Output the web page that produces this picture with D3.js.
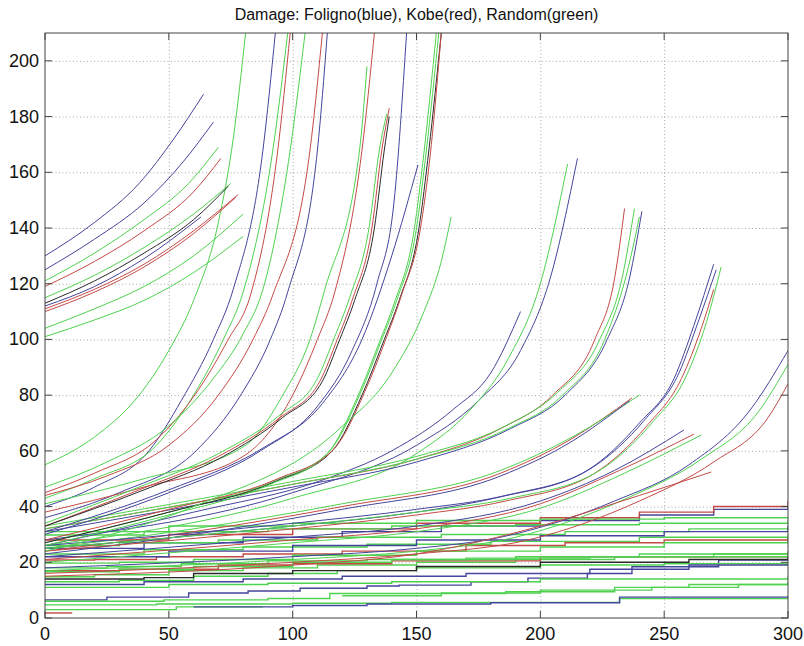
<!DOCTYPE html>
<html>
<head>
<meta charset="utf-8">
<script src="https://cdnjs.cloudflare.com/ajax/libs/d3/7.8.5/d3.min.js"></script>
<style>
  body { margin: 0; background: #fff; }
  .grid line { stroke: #a8a8a8; stroke-dasharray: 1,2.5; }
  .grid path { display: none; }
  .lbl { font-family: "Liberation Sans", Arial, sans-serif; font-size: 18px; fill: #111; }
  .ttl { font-family: "Liberation Sans", Arial, sans-serif; font-size: 16px; fill: #111; }
</style>
</head>
<body>
<div id="chart"></div>
<script>
// -----------------------------------------------------------------------------
// Data
// -----------------------------------------------------------------------------

var TITLE = "Damage: Foligno(blue), Kobe(red), Random(green)";
var X_TICKS = [0, 50, 100, 150, 200, 250, 300];
var Y_TICKS = [0, 20, 40, 60, 80, 100, 120, 140, 160, 180, 200];
var X_DOMAIN = [0, 300];
var Y_DOMAIN = [0, 210];

// series colour codes: b = Foligno, r = Kobe, g = Random, k = overlap
var upperLeft = [
  {c: "b", p: [[0,130],[20,142],[38,156],[52,172],[64,188]]},
  {c: "b", p: [[0,125],[20,136],[40,149],[56,164],[68,178]]},
  {c: "g", p: [[0,121],[20,131],[40,143],[58,156],[70,169]]},
  {c: "r", p: [[0,119],[20,128],[40,139],[60,153],[71,165]]},
  {c: "g", p: [[0,115],[20,123],[40,133],[60,145],[75,156]]},
  {c: "k", p: [[0,113],[20,121],[40,131],[60,143],[74,155]]},
  {c: "b", p: [[0,112],[20,119],[40,129],[63,144]]},
  {c: "r", p: [[0,110],[20,117],[40,126],[60,138],[77,151]]},
  {c: "r", p: [[0,111],[20,118],[40,127],[60,139],[78,152]]},
  {c: "g", p: [[0,104],[20,111],[40,119],[60,130],[80,145]]},
  {c: "g", p: [[0,101],[20,107],[40,114],[60,124],[80,137]]}
];

var steep = [
  {c: "g", p: [[0,55],[20,65],[38,80],[50,96],[60,114],[70,142],[76,172],[81,210]]},
  {c: "b", p: [[0,40],[20,47],[42,60],[55,78],[68,100],[76,118],[88,168],[93,210]]},
  {c: "g", p: [[0,43],[20,50],[45,62],[60,80],[72,100],[80,117],[92,168],[98,210]]},
  {c: "r", p: [[0,45],[20,52],[45,64],[62,82],[74,100],[83,116],[94,168],[99,210]]},
  {c: "g", p: [[0,47],[25,56],[50,69],[68,86],[80,102],[88,118],[99,168],[105,210]]},
  {c: "r", p: [[0,44],[25,51],[50,62],[70,80],[84,100],[92,116],[107,168],[112,210]]},
  {c: "b", p: [[0,36],[30,45],[61,60],[79,80],[91,100],[98,117],[110,168],[114,210]]},
  {c: "g", p: [[0,41],[40,50],[81,62],[96,80],[107,100],[113,118],[127,168],[130,198]]},
  {c: "r", p: [[0,38],[40,47],[80,58],[100,80],[110,100],[117,117],[128,168],[133,210]]},
  {c: "r", p: [[0,33],[38,46],[70,58],[95,72],[111,85],[118,100],[124,114],[132,140],[136,168],[139,183]]},
  {c: "g", p: [[0,34],[38,47],[70,59],[95,73],[110,86],[117,101],[123,115],[131,141],[135,168],[138,181]]},
  {c: "k", p: [[0,33],[40,46],[72,58],[96,72],[112,85],[119,100],[125,114],[133,140],[137,168],[139,180]]},
  {c: "b", p: [[0,30],[50,45],[87,60],[110,76],[124,96],[134,120],[141,150],[146,210]]},
  {c: "b", p: [[0,31],[50,46],[88,61],[112,77],[128,100],[140,130],[150.6,162.7]]},
  {c: "g", p: [[0,27],[50,38],[92,49],[115,60],[127,80],[136,100],[142,114],[150,140],[154,168],[159,210]]},
  {c: "k", p: [[0,27],[50,38],[93,49],[116,60],[128,80],[137,100],[143,114],[151,140],[155,168],[160,210]]},
  {c: "g", p: [[0,26],[50,37],[91,48],[114,59],[126,79],[135,99],[141,113],[149,139],[153,167],[158,210]]},
  {c: "r", p: [[0,28],[50,39],[94,50],[117,61],[129,81],[138,101],[144,116],[152,142],[156,170],[160,210]]},
  {c: "g", p: [[0,24],[60,40],[119,68],[140,88],[153,110],[160,128],[164,144]]}
];

var mid = [
  {c: "b", p: [[0,28],[100,45],[150,62],[175,78],[192,96],[204,122],[215,165]]},
  {c: "g", p: [[0,26],[100,43],[150,59],[172,75],[187,93],[200,120],[211,163]]},
  {c: "b", p: [[0,26],[60,38],[112,49.5],[140,60],[165,75],[180,88],[192,110]]},
  {c: "r", p: [[0,24],[60,31],[120,40],[184,52],[212,64],[237,79]]},
  {c: "g", p: [[0,25],[60,32],[120,41],[184,53],[213,65],[240,80]]},
  {c: "b", p: [[0,23],[60,30],[120,39],[184,51],[212,63],[236,78]]},
  {c: "r", p: [[0,32],[100,48],[150,57],[184,68],[205,80],[222,100],[230,122],[234,147]]},
  {c: "g", p: [[0,33],[100,49],[150,58],[186,69],[207,81],[224,100],[233,122],[238,147]]},
  {c: "b", p: [[0,31],[100,47],[150,56],[188,68],[210,80],[227,100],[236,122],[241,146]]},
  {c: "g", p: [[0,32],[100,48],[150,57],[187,68],[209,80],[226,100],[235,124],[240,144]]},
  {c: "b", p: [[0,25],[100,33],[150,38],[184,43.5],[219,53],[240,70],[254,86],[262,105],[270,127]]},
  {c: "b", p: [[0,26],[100,34],[150,39],[186,44],[221,54],[242,71],[256,88],[264,107],[271,125]]},
  {c: "r", p: [[0,24],[100,32],[150,37],[186,42],[222,52],[243,69],[257,86],[265,104],[270,118]]},
  {c: "g", p: [[0,25],[100,33],[150,38],[188,43],[224,53],[245,70],[259,87],[267,106],[273,126]]},
  {c: "b", p: [[0,22],[100,29],[150,33],[200,42],[230,53],[258,67.5]]},
  {c: "r", p: [[0,21],[100,28],[150,32],[200,41],[232,53],[262,66]]},
  {c: "g", p: [[0,20],[100,27],[150,31],[202,40],[234,52],[265,65.7]]},
  {c: "b", p: [[0,18],[100,22],[150,25],[184,29],[230,42],[260,55],[285,75],[300,96]]},
  {c: "g", p: [[0,17],[100,21],[150,24],[190,29],[235,43],[265,57],[288,74],[300,91]]},
  {c: "r", p: [[0,16],[100,20],[150,23],[195,28],[240,42],[270,56],[292,72],[300,84]]},
  {c: "r", p: [[0,15],[100,19],[150,23],[200,33],[240,44],[269,52.4]]}
];

var low = [
  {c: "r", p: [[0,1.8],[11,1.8]]},
  {c: "g", p: [[0,3],[53,4],[88,4]]},
  {c: "g", p: [[0,4.7],[45,5],[100,5.3],[140,5.6],[232,7],[300,7]]},
  {c: "b", p: [[60,4],[100,4.5],[130,5],[180,5.5],[232,7.5],[300,8]]},
  {c: "b", p: [[0,6.5],[25,7.5],[58,9],[82,9.7],[103,10.7],[130,11.5],[143,11.8],[172,13],[195,14.3],[219,16],[237,18.4],[272,20.8],[300,21.5]]},
  {c: "g", p: [[0,6],[48,6.5],[90,7],[115,8.8],[186,9.4],[230,11],[260,12],[300,13]]},
  {c: "g", p: [[120,8],[160,9],[200,10],[245,11],[280,12],[300,12]]},
  {c: "g", p: [[0,11],[20,11],[50,12],[90,12.5],[140,13],[200,14],[300,15]]},
  {c: "g", p: [[0,13],[30,13.5],[60,15],[90,16],[118,17],[150,18],[200,19],[250,19.5],[300,20]]},
  {c: "b", p: [[0,12],[40,13],[80,14],[120,15],[170,16],[220,17.5],[260,19],[300,19]]},
  {c: "g", p: [[0,14.8],[20,15.5],[50,17],[80,18],[110,19],[150,20],[190,21],[230,22],[270,23],[300,24]]},
  {c: "r", p: [[0,17],[30,17.5],[70,19],[100,19.5],[140,20.5],[200,22],[300,23]]},
  {c: "g", p: [[0,18],[25,18.5],[55,19.5],[90,20.5],[130,21],[170,21.5],[220,22],[300,22.5]]},
  {c: "r", p: [[0,20.8],[20,21],[45,22],[80,23],[120,24],[170,26],[210,27],[250,28],[300,29]]},
  {c: "g", p: [[0,19.7],[30,20],[60,21],[100,22.5],[150,24],[200,25.5],[250,27],[300,28]]},
  {c: "g", p: [[0,16.6],[30,17.5],[60,18.5],[100,20],[140,21],[190,22],[240,23],[300,24]]},
  {c: "g", p: [[0,23],[40,24.5],[80,25.5],[130,26.5],[180,27.5],[240,29],[300,30]]},
  {c: "b", p: [[0,25],[40,27],[80,29],[120,31],[160,33],[200,35],[240,37],[270,39],[300,40]]},
  {c: "g", p: [[0,26],[30,27],[70,28],[110,29],[160,30],[210,31],[260,32],[300,32.5]]},
  {c: "r", p: [[0,28],[50,30],[100,32],[150,34],[200,36],[240,38],[270,40],[300,42]]},
  {c: "g", p: [[0,29.8],[40,31],[90,32],[140,33],[190,33.5],[240,34],[300,35]]},
  {c: "g", p: [[0,31],[50,33],[100,34],[150,35],[200,35.5],[250,36],[300,36]]},
  {c: "b", p: [[0,22],[50,24],[100,26],[150,28],[200,29.5],[250,31],[300,33]]},
  {c: "k", p: [[0,14],[40,14.5],[60,16],[100,17],[150,18.5],[200,20],[260,21],[300,22]]}
];

// -----------------------------------------------------------------------------
// Drawing
// -----------------------------------------------------------------------------

var COLORS = {b: "#45459c", r: "#c44a46", g: "#4fd24f", k: "#2a2a2a"};
var margin = {top: 33, right: 16, bottom: 28, left: 45};
var W = 804, H = 646;
var width = W - margin.left - margin.right;
var height = H - margin.top - margin.bottom;

var xScale = d3.scaleLinear().domain(X_DOMAIN).range([0, width]);
var yScale = d3.scaleLinear().domain(Y_DOMAIN).range([height, 0]);

var svg = d3.select("#chart").append("svg")
    .attr("width", W)
    .attr("height", H);

svg.append("text")
    .attr("class", "ttl")
    .attr("x", margin.left + width / 2)
    .attr("y", 20)
    .attr("text-anchor", "middle")
    .text(TITLE);

var g = svg.append("g")
    .attr("transform", "translate(" + margin.left + "," + margin.top + ")");

g.append("defs").append("clipPath").attr("id", "clip")
  .append("rect").attr("width", width).attr("height", height);

g.append("g")
    .attr("class", "grid")
    .attr("transform", "translate(0," + height + ")")
    .call(d3.axisBottom(xScale).tickValues(X_TICKS.slice(1, -1)).tickSize(-height).tickFormat(""));

g.append("g")
    .attr("class", "grid")
    .call(d3.axisLeft(yScale).tickValues(Y_TICKS.slice(1)).tickSize(-width).tickFormat(""));

var smooth = d3.line()
    .x(function(d) { return xScale(d[0]); })
    .y(function(d) { return yScale(d[1]); })
    .curve(d3.curveMonotoneX);

var step = d3.line()
    .x(function(d) { return xScale(d[0]); })
    .y(function(d) { return yScale(d[1]); })
    .curve(d3.curveStepAfter);

var plot = g.append("g").attr("clip-path", "url(#clip)");

function drawSet(data, gen, w) {
  plot.append("g").selectAll("path")
    .data(data)
    .enter().append("path")
      .attr("fill", "none")
      .attr("stroke", function(d) { return COLORS[d.c]; })
      .attr("stroke-width", w)
      .attr("d", function(d) { return gen(d.p); });
}

drawSet(low, step, 1.4);
drawSet(mid, smooth, 1);
drawSet(steep, smooth, 1);
drawSet(upperLeft, smooth, 1);

// box with inward ticks on all four sides
var frame = g.append("g");
frame.append("rect")
    .attr("width", width).attr("height", height)
    .attr("fill", "none").attr("stroke", "#444").attr("stroke-width", 1);

frame.selectAll(".xt").data(X_TICKS).enter().append("path")
    .attr("stroke", "#444")
    .attr("d", function(d) {
      var x = xScale(d);
      return "M" + x + "," + height + "v-7M" + x + ",0v7";
    });

frame.selectAll(".yt").data(Y_TICKS).enter().append("path")
    .attr("stroke", "#444")
    .attr("d", function(d) {
      var y = yScale(d);
      return "M0," + y + "h7M" + width + "," + y + "h-7";
    });

g.selectAll(".xl").data(X_TICKS).enter().append("text")
    .attr("class", "lbl")
    .attr("x", function(d) { return xScale(d); })
    .attr("y", height + 22)
    .attr("text-anchor", "middle")
    .text(function(d) { return d; });

g.selectAll(".yl").data(Y_TICKS).enter().append("text")
    .attr("class", "lbl")
    .attr("x", -6)
    .attr("y", function(d) { return yScale(d) + 6; })
    .attr("text-anchor", "end")
    .text(function(d) { return d; });
</script>
</body>
</html>
